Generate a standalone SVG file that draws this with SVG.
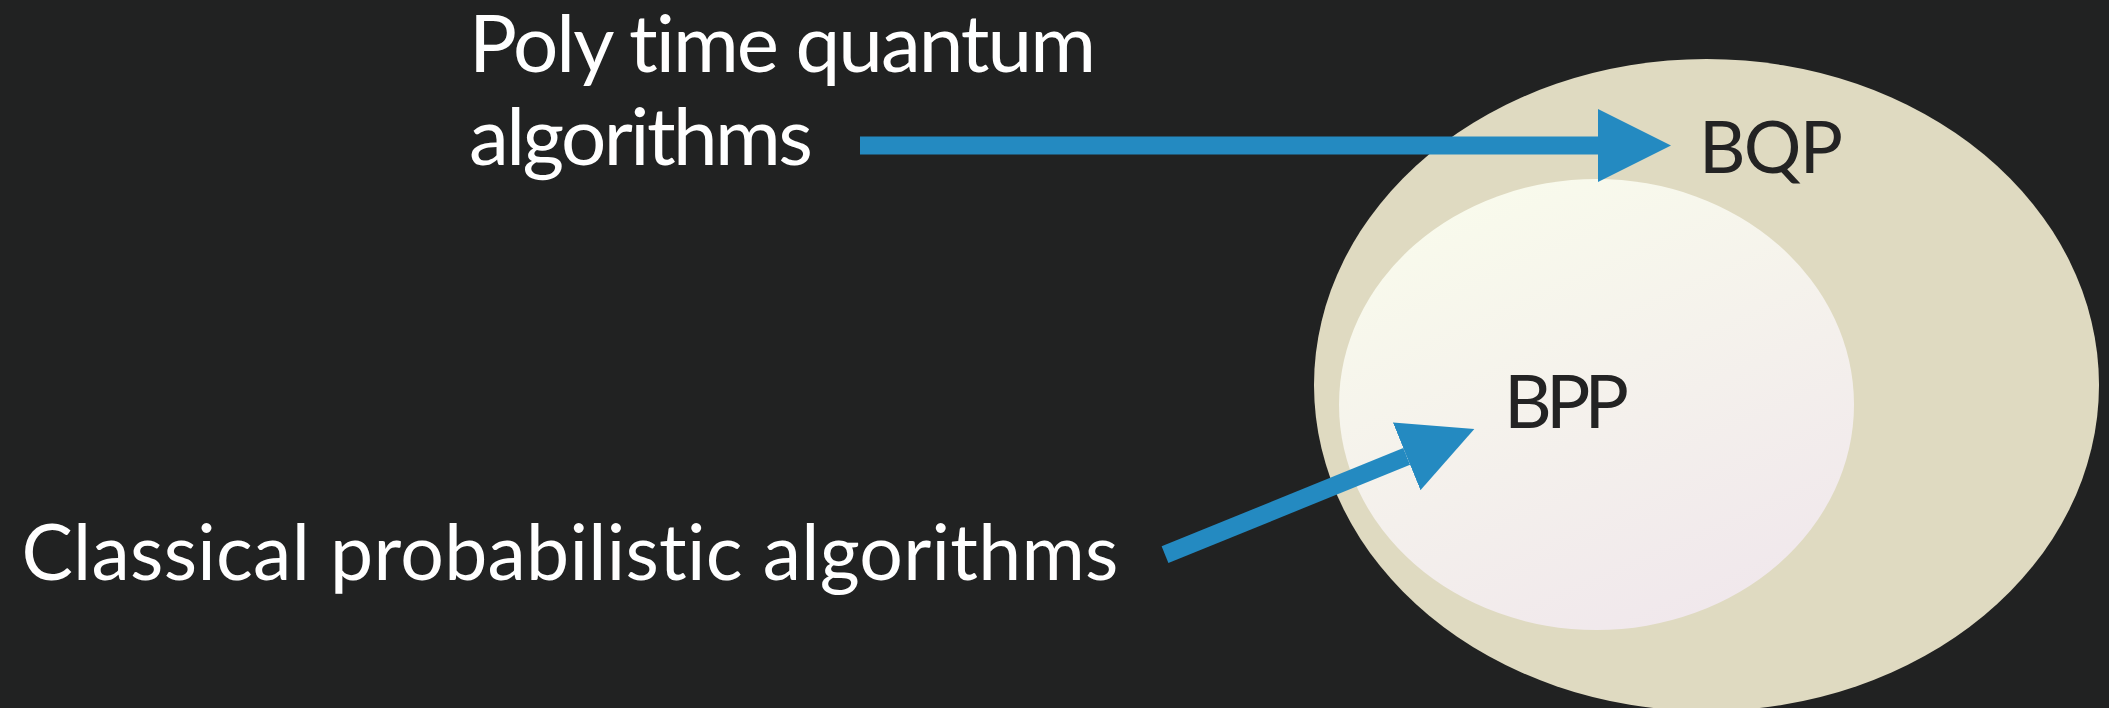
<svg xmlns="http://www.w3.org/2000/svg" width="2109" height="708" viewBox="0 0 2109 708">
  <defs>
    <linearGradient id="innerGrad" x1="0.25" y1="0" x2="0.75" y2="1">
      <stop offset="0" stop-color="#f9fbec"/>
      <stop offset="1" stop-color="#f0e7ec"/>
    </linearGradient>
    <marker id="head" markerUnits="userSpaceOnUse" markerWidth="74" markerHeight="74" viewBox="0 -37 74 74" refX="0" refY="0" orient="auto">
      <path d="M0,-36.5 L73,0 L0,36.5 Z" fill="#248ac1"/>
    </marker>
    <style>
      .label { font-family: Lato, "Open Sans", sans-serif; fill: #ffffff; font-variant-ligatures: none; font-feature-settings: "liga" 0; }
      .set { font-family: Lato, "Open Sans", sans-serif; fill: #232323; }
      .conn { stroke: #248ac1; stroke-width: 18; fill: none; marker-end: url(#head); }
    </style>
  </defs>
  <rect x="0" y="0" width="2109" height="708" fill="#212222"/>

  <g id="bqp">
    <ellipse cx="1706.5" cy="385" rx="392.5" ry="326" fill="#dfdac1"/>
    <text class="set" x="1699" y="172.7" font-size="72" textLength="144" lengthAdjust="spacing">BQP</text>
  </g>
  <g id="bpp">
    <ellipse cx="1596.5" cy="404.5" rx="257.5" ry="225.5" fill="url(#innerGrad)"/>
    <text class="set" x="1504" y="427.7" font-size="74" textLength="125" lengthAdjust="spacing">BPP</text>
  </g>
  <g id="quantum-label">
    <text class="label" x="469" y="72" font-size="80" textLength="627" lengthAdjust="spacing">Poly time quantum</text>
    <text class="label" x="469" y="165" font-size="80" textLength="344" lengthAdjust="spacing">algorithms</text>
  </g>
  <g id="classical-label">
    <text class="label" x="21.4" y="580" font-size="77" textLength="1097" lengthAdjust="spacing">Classical probabilistic algorithms</text>
  </g>

  <g id="connectors">
    <line class="conn" x1="860" y1="145.5" x2="1598" y2="145.5"/>
    <line class="conn" x1="1165" y1="554.7" x2="1406.7" y2="456.4"/>
  </g>
</svg>
